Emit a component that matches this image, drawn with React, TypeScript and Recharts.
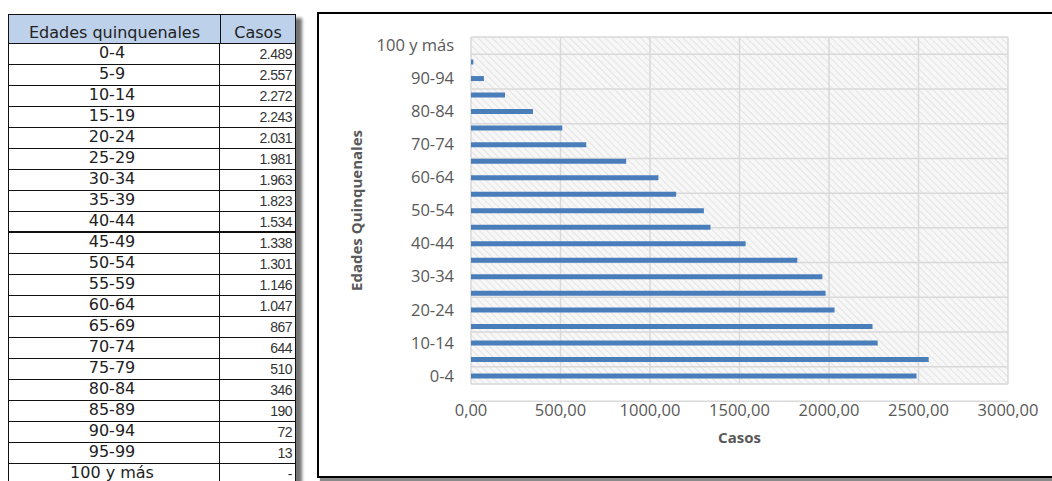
import React from 'react';
import { BarChart, Bar, XAxis, YAxis, CartesianGrid } from 'recharts';

// Age groups (five-year bands) and case counts
const categories = [
    '0-4', '5-9', '10-14', '15-19', '20-24', '25-29', '30-34', '35-39', '40-44', '45-49',
    '50-54', '55-59', '60-64', '65-69', '70-74', '75-79', '80-84', '85-89', '90-94', '95-99', '100 y más',
];
const casos = [
    2489, 2557, 2272, 2243, 2031, 1981, 1963, 1823, 1534, 1338,
    1301, 1146, 1047, 867, 644, 510, 346, 190, 72, 13, 0,
];
const xTicks = [0, 500, 1000, 1500, 2000, 2500, 3000];

const data = categories.map((edad, i) => ({ edad, casos: casos[i] }));
// band edges for the horizontal grid (one line between every category)
const bandEdges = [...categories.map((_, i) => i), categories.length];

const formatTable = (v: number) =>
    v === 0 ? '-' : String(v).replace(/\B(?=(\d{3})+(?!\d))/g, '.');
const formatAxis = (v: number) => v.toFixed(2).replace('.', ',');

const axisFont = { fontFamily: '"Open Sans", sans-serif', fontSize: 16.5, fill: '#595959' };
const gridGray = '#d9d9d9';

const CasesTable: React.FC = () => (
    <div style={{
        position: 'absolute', left: 8, top: 14, width: 288, boxSizing: 'border-box',
        border: '1px solid #111', background: '#fff', boxShadow: '6px 4px 3px rgba(0,0,0,0.55)',
        fontFamily: '"DejaVu Sans", Verdana, sans-serif', color: '#222',
    }}>
        <div style={{ display: 'flex', height: 29, background: '#bdd1ea', borderBottom: '1px solid #111', boxSizing: 'border-box' }}>
            <div style={{ width: 211, borderRight: '1px solid #111', fontSize: 16, textAlign: 'center', lineHeight: '36px' }}>
                Edades quinquenales
            </div>
            <div style={{ flex: 1, fontSize: 16, textAlign: 'center', lineHeight: '36px' }}>Casos</div>
        </div>
        {categories.map((edad, i) => (
            <div key={edad} style={{
                display: 'flex', height: 21, boxSizing: 'border-box',
                borderBottom: edad === '40-44' ? '2px solid #111' : '1px solid #111',
            }}>
                <div style={{ width: 211, borderRight: '1px solid #111', fontSize: 16, textAlign: 'center', lineHeight: '18px', paddingRight: 4, boxSizing: 'border-box' }}>
                    {edad}
                </div>
                <div style={{ flex: 1, fontFamily: '"Liberation Sans", Arial, sans-serif', fontSize: 14, textAlign: 'right', paddingRight: 3, lineHeight: '20px', letterSpacing: -0.5, color: '#333' }}>
                    {formatTable(casos[i])}
                </div>
            </div>
        ))}
    </div>
);

export default function App() {
    return (
        <div style={{ position: 'absolute', left: 0, top: 0, width: 1052, height: 481, overflow: 'hidden', background: '#fff' }}>
            <svg width={0} height={0} style={{ position: 'absolute' }}>
                <defs>
                    <pattern id="hatch" width={5} height={5} patternUnits="userSpaceOnUse" patternTransform="rotate(-45)">
                        <rect width={5} height={5} fill="#f7f7f7" />
                        <line x1={0} y1={0} x2={0} y2={5} stroke="#e4e4e4" strokeWidth={2} />
                    </pattern>
                </defs>
            </svg>

            <CasesTable />

            <div style={{
                position: 'absolute', left: 317, top: 12, width: 740, height: 466, boxSizing: 'border-box',
                border: '2px solid #000', background: '#fff', boxShadow: '3px 3px 1px #8a8a8a',
            }}>
                <BarChart
                    width={736}
                    height={462}
                    data={data}
                    layout="vertical"
                    margin={{ top: 23, right: 47, bottom: 0, left: 0 }}
                >
                    <CartesianGrid yAxisId="edges" stroke={gridGray} strokeWidth={1.5} fill="url(#hatch)" fillOpacity={1} />
                    <XAxis
                        type="number"
                        domain={[0, 3000]}
                        ticks={xTicks}
                        tickFormatter={formatAxis}
                        axisLine={false}
                        tickLine={false}
                        tickSize={6}
                        tickMargin={14}
                        height={92}
                        tick={axisFont}
                        label={{
                            value: 'Casos', position: 'insideBottom', offset: 33,
                            style: { fontFamily: '"Open Sans", sans-serif', fontSize: 15, fontWeight: 700, fill: '#595959' },
                        }}
                    />
                    <YAxis
                        yAxisId="edges"
                        type="number"
                        domain={[0, categories.length]}
                        ticks={bandEdges}
                        width={0}
                        axisLine={false}
                        tickLine={{ stroke: gridGray, strokeWidth: 1.5 }}
                        tickSize={6}
                        tick={() => <g />}
                    />
                    <YAxis
                        yAxisId="cat"
                        type="category"
                        dataKey="edad"
                        reversed
                        interval={1}
                        width={152}
                        axisLine={false}
                        tickLine={false}
                        tickSize={6}
                        tickMargin={11}
                        tick={axisFont}
                        label={{
                            value: 'Edades Quinquenales', angle: -90, position: 'insideLeft', offset: 38,
                            style: { textAnchor: 'middle', fontFamily: '"Open Sans", sans-serif', fontSize: 15, fontWeight: 700, fill: '#595959' },
                        }}
                    />
                    <Bar yAxisId="cat" dataKey="casos" fill="#4a7ebb" barSize={5} isAnimationActive={false} />
                </BarChart>
            </div>
        </div>
    );
}
